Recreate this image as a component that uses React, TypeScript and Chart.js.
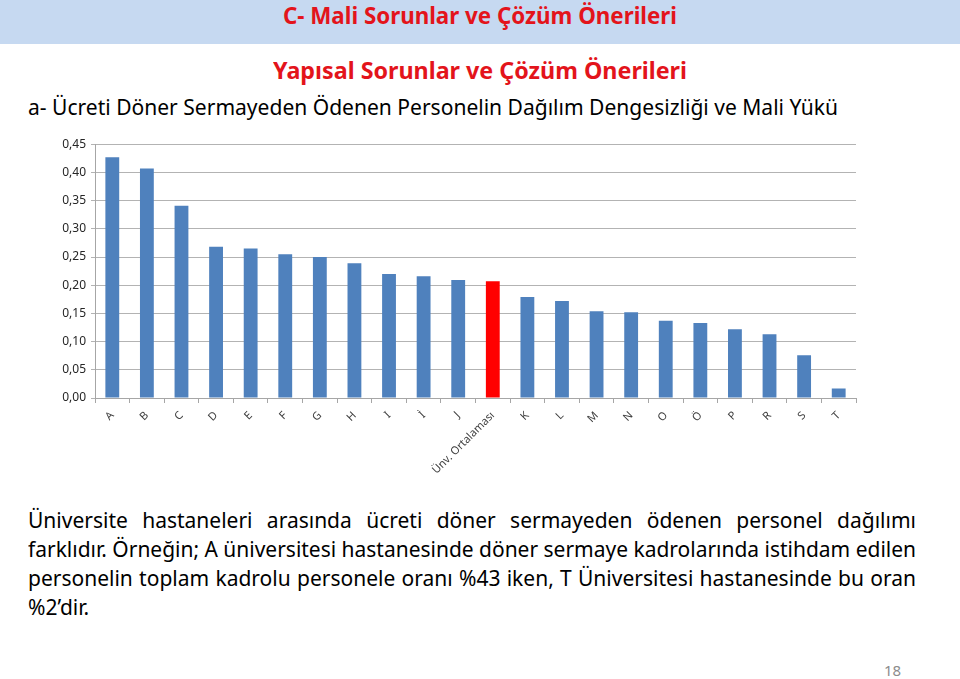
import React, { useEffect, useLayoutEffect, useRef } from "react";
import { Chart, registerables } from "chart.js";

Chart.register(...registerables);

const categories = [
  "A", "B", "C", "D", "E", "F", "G", "H", "I", "İ", "J",
  "Ünv. Ortalaması",
  "K", "L", "M", "N", "O", "Ö", "P", "R", "S", "T",
];
const values = [
  0.427, 0.407, 0.341, 0.268, 0.265, 0.255, 0.25, 0.239, 0.22, 0.216, 0.209,
  0.207,
  0.179, 0.172, 0.154, 0.152, 0.137, 0.133, 0.122, 0.113, 0.076, 0.017,
];
const highlightCategory = "Ünv. Ortalaması";
const yMin = 0;
const yMax = 0.45;
const yStep = 0.05;

const headerTitle = "C- Mali Sorunlar ve Çözüm Önerileri";
const subTitle = "Yapısal Sorunlar ve Çözüm Önerileri";
const chartTitle =
  "a- Ücreti Döner Sermayeden Ödenen Personelin Dağılım Dengesizliği ve Mali Yükü";
const paragraphLines = [
  "Üniversite hastaneleri arasında ücreti döner sermayeden ödenen personel dağılımı",
  "farklıdır. Örneğin; A üniversitesi hastanesinde döner sermaye kadrolarında istihdam edilen",
  "personelin toplam kadrolu personele oranı %43 iken, T Üniversitesi hastanesinde bu oran",
  "%2’dir.",
];
const pageNumber = "18";

const FONT = '"Liberation Sans Narrow", "Arial Narrow", "Noto Sans", sans-serif';
const BLUE = "#4F81BD";
const RED = "#FF0000";

function FitLine(props: {
  text: string;
  left: number;
  top: number;
  width?: number;
  size: number;
  color: string;
  weight?: number;
  justify?: boolean;
}) {
  const ref = useRef<HTMLSpanElement>(null);
  useLayoutEffect(() => {
    const el = ref.current;
    if (!el) return;
    el.style.transform = "none";
    el.style.wordSpacing = "normal";
    const w = el.getBoundingClientRect().width;
    if (!props.width) return;
    if (props.justify) {
      const words = props.text.split(" ").length - 1;
      if (words > 0 && w < props.width) {
        el.style.wordSpacing = `${(props.width - w) / words}px`;
      } else if (w > props.width) {
        el.style.transform = `scaleX(${props.width / w})`;
      }
    } else if (w > 0) {
      el.style.transform = `scaleX(${props.width / w})`;
    }
  }, [props.text, props.width]);
  return (
    <div
      style={{
        position: "absolute",
        left: props.left,
        top: props.top,
        whiteSpace: "nowrap",
        lineHeight: 1,
      }}
    >
      <span
        ref={ref}
        style={{
          display: "inline-block",
          transformOrigin: "0 0",
          fontFamily: FONT,
          fontSize: props.size,
          fontWeight: props.weight ?? 400,
          color: props.color,
        }}
      >
        {props.text}
      </span>
    </div>
  );
}

function BarChart() {
  const canvasRef = useRef<HTMLCanvasElement>(null);
  useEffect(() => {
    const canvas = canvasRef.current;
    if (!canvas) return;
    const chart = new Chart(canvas, {
      type: "bar",
      data: {
        labels: categories,
        datasets: [
          {
            data: values,
            backgroundColor: categories.map((c) => (c === highlightCategory ? RED : BLUE)),
            borderWidth: 0,
            categoryPercentage: 0.8,
            barPercentage: 0.5,
          },
        ],
      },
      options: {
        animation: false,
        responsive: false,
        maintainAspectRatio: false,
        layout: { padding: { top: 6, right: 14, left: 0, bottom: 0 } },
        plugins: { legend: { display: false }, tooltip: { enabled: false }, title: { display: false } },
        scales: {
          x: {
            grid: {
              display: true,
              drawOnChartArea: false,
              drawTicks: true,
              tickLength: 5,
              color: "#A6A6A6",
              offset: true,
            },
            border: { display: true, color: "#A6A6A6" },
            ticks: {
              minRotation: 45,
              maxRotation: 45,
              autoSkip: false,
              color: "#404040",
              font: { family: FONT, size: 11 },
              padding: 6,
            },
            afterFit: (scale: any) => {
              scale.height = 100;
            },
          },
          y: {
            min: yMin,
            max: yMax,
            grid: { color: "#B3B3B3", drawTicks: true, tickLength: 4 },
            border: { display: true, color: "#A6A6A6" },
            ticks: {
              stepSize: yStep,
              color: "#262626",
              font: { family: FONT, size: 12 },
              padding: 5,
              callback: (v: any) => Number(v).toFixed(2).replace(".", ","),
            },
            afterFit: (scale: any) => {
              scale.width = 55;
            },
          },
        },
      },
    });
    return () => chart.destroy();
  }, []);
  return (
    <canvas
      ref={canvasRef}
      width={830}
      height={366}
      style={{ position: "absolute", left: 40, top: 132, width: 830, height: 366 }}
    />
  );
}

export default function App() {
  return (
    <div
      style={{
        position: "fixed",
        left: 0,
        top: 0,
        width: 960,
        height: 679,
        background: "#FFFFFF",
        overflow: "hidden",
      }}
    >
      <div
        style={{
          position: "absolute",
          left: 0,
          top: 0,
          width: 960,
          height: 44,
          background: "#C6D9F1",
        }}
      />
      <FitLine text={headerTitle} left={283} top={4} width={394} size={23} color="#E3141B" weight={700} />
      <FitLine text={subTitle} left={273} top={59} width={414} size={23} color="#E3141B" weight={700} />
      <FitLine text={chartTitle} left={28} top={97} width={810} size={21} color="#000000" />
      <BarChart />
      {paragraphLines.map((line, i) => (
        <FitLine
          key={i}
          text={line}
          left={28}
          top={510 + i * 29}
          width={i < paragraphLines.length - 1 ? 888 : undefined}
          size={21}
          color="#000000"
          justify={i < paragraphLines.length - 1}
        />
      ))}
      <div
        style={{
          position: "absolute",
          left: 884,
          top: 663,
          fontFamily: FONT,
          fontSize: 15,
          color: "#8C8C8C",
          lineHeight: 1,
        }}
      >
        {pageNumber}
      </div>
    </div>
  );
}
